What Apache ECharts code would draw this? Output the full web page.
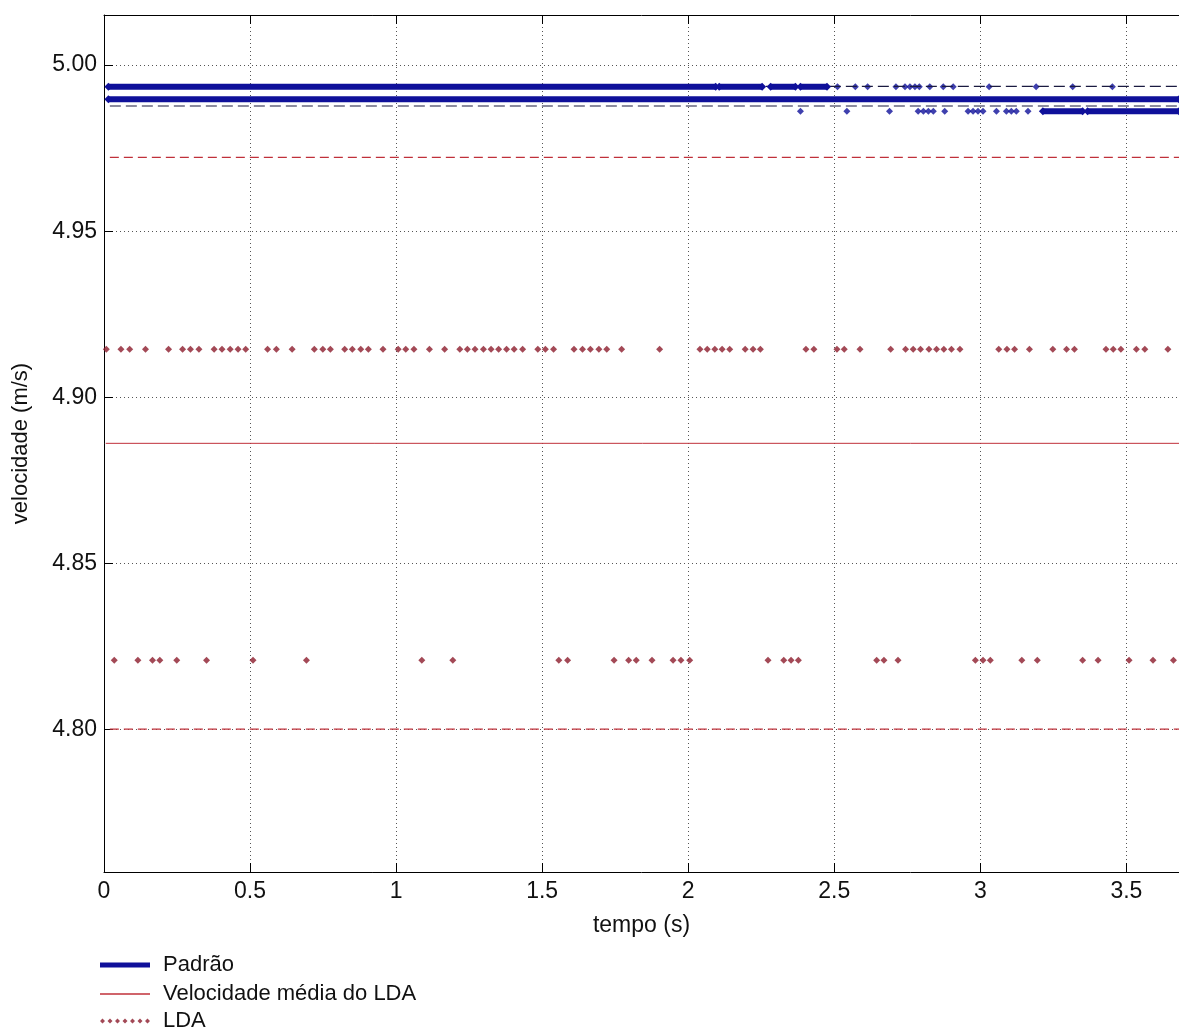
<!DOCTYPE html>
<html>
<head>
<meta charset="utf-8">
<title>velocidade x tempo</title>
<script src="https://cdn.jsdelivr.net/npm/echarts@6/dist/echarts.min.js"></script>
<style>
  html, body { margin: 0; padding: 0; background: #ffffff; }
  #chart { width: 1179px; height: 1030px; }
</style>
</head>
<body>
<div id="chart"></div>
<script>
// ---- Padrão: quantized readings of the reference instrument (m/s) ----
const nivelAlto = 4.9935;
const nivelMedio = 4.9897;
const nivelBaixo = 4.9861;
// time spans (s) where readings are so dense they merge into a band
const faixasAlto = [[0.015, 2.094], [2.106, 2.253], [2.282, 2.367], [2.384, 2.475]];
const faixasMedio = [[0.015, 3.68]];
const faixasBaixo = [[3.214, 3.350], [3.367, 3.68]];
// isolated readings (s)
const pontosAlto = [2.511, 2.572, 2.614, 2.711, 2.742, 2.759, 2.776, 2.791, 2.827, 2.873, 2.907, 3.030, 3.191, 3.316, 3.452];
const pontosBaixo = [2.384, 2.543, 2.689, 2.787, 2.805, 2.822, 2.839, 2.878, 2.958, 2.975, 2.992, 3.009, 3.055, 3.089, 3.106, 3.123, 3.163];
// Padrão spread limits
const padraoSup = 4.9936;
const padraoInf = 4.9877;

// ---- LDA ----
const ldaMedia = 4.8861;
const ldaSup = 4.9722;
const ldaInf = 4.8000;
const ldaAlto = 4.9144;
const ldaBaixo = 4.8208;
const tempoLdaAlto = [0.008, 0.058, 0.088, 0.142, 0.221, 0.269, 0.296, 0.325, 0.377, 0.404, 0.432, 0.459, 0.485,
  0.560, 0.590, 0.644, 0.720, 0.749, 0.775, 0.824, 0.850, 0.879, 0.905, 0.955, 1.007, 1.033, 1.061, 1.114,
  1.166, 1.218, 1.244, 1.270, 1.299, 1.325, 1.351, 1.378, 1.404, 1.433, 1.485, 1.511, 1.539, 1.609, 1.638,
  1.665, 1.694, 1.721, 1.772, 1.902, 2.040, 2.065, 2.091, 2.116, 2.142, 2.195, 2.222, 2.247, 2.403, 2.430,
  2.509, 2.534, 2.588, 2.693, 2.744, 2.770, 2.795, 2.824, 2.850, 2.875, 2.901, 2.930, 3.063, 3.091, 3.117,
  3.168, 3.248, 3.295, 3.322, 3.430, 3.455, 3.481, 3.534, 3.563, 3.642];
const tempoLdaBaixo = [0.035, 0.116, 0.166, 0.191, 0.249, 0.351, 0.510, 0.693, 1.088, 1.194, 1.557, 1.587,
  1.746, 1.796, 1.822, 1.876, 1.948, 1.975, 2.005, 2.273, 2.327, 2.352, 2.377, 2.645, 2.670, 2.718, 2.983,
  3.009, 3.034, 3.142, 3.195, 3.350, 3.403, 3.509, 3.591, 3.661];

// ---- axes ----
const tempoMin = 0, tempoMax = 3.68, tempoPasso = 0.5;
const velMin = 4.7570, velMax = 5.0151;
const inicioLinhas = 0.02;

const azul = '#0f109a';
const vermelho = '#c0303a';
const vinho = '#8c1c2c';
const fonte = "'Liberation Sans', Arial, sans-serif";
const tamanho = 23;

// line data with null breaks between separate spans
function faixas(spans, y) {
  const out = [];
  spans.forEach((s, i) => {
    if (i > 0) out.push([null, null]);
    out.push([s[0], y], [s[1], y]);
  });
  return out;
}
function horizontal(y, x0) { return [[x0, y], [tempoMax, y]]; }
function pontos(xs, y) { return xs.map(x => [x, y]); }

// legend icon: a short row of diamonds (60 x 6 units, same aspect as the 50 x 5 icon box)
function fileiraLosangos() {
  let p = 'path://';
  for (let i = 0; i < 7; i++) {
    const cx = 3 + i * 9;
    p += 'M' + (cx - 3) + ',3 L' + cx + ',0 L' + (cx + 3) + ',3 L' + cx + ',6 Z ';
  }
  return p;
}

function legenda(nome, topo, icone, altura, cor) {
  return {
    left: 100, top: topo, padding: 0, itemWidth: 50, itemHeight: altura,
    textStyle: { fontFamily: fonte, fontSize: tamanho - 1, color: '#111', padding: [0, 0, 0, 8] },
    data: [{ name: nome, icon: icone, itemStyle: { color: cor } }]
  };
}

const chart = echarts.init(document.getElementById('chart'), null, { renderer: 'canvas' });

const eixoX = {
  type: 'value', min: tempoMin, max: tempoMax, interval: tempoPasso,
  axisLine: { show: true, onZero: false, lineStyle: { color: '#000', width: 1 } },
  axisTick: { show: true, inside: true, length: 9, lineStyle: { color: '#000' } },
  splitLine: { show: true, lineStyle: { color: '#555', type: [1, 3], width: 1 } },
};

chart.setOption({
  animation: false,
  backgroundColor: '#ffffff',
  grid: { left: 104, top: 15, bottom: 158, right: -11, containLabel: false },
  legend: [
    legenda('Padrão', 954, 'rect', 5, azul),
    legenda('Velocidade média do LDA', 983, 'rect', 1.6, vermelho),
    legenda('LDA', 1010, fileiraLosangos(), 5, vinho)
  ],
  xAxis: [
    Object.assign({}, eixoX, {
      position: 'bottom',
      name: 'tempo (s)', nameLocation: 'middle', nameGap: 42,
      nameTextStyle: { fontFamily: fonte, fontSize: tamanho, color: '#111' },
      axisLabel: { show: true, margin: 8, fontFamily: fonte, fontSize: tamanho, color: '#111', showMaxLabel: false }
    }),
    Object.assign({}, eixoX, {
      position: 'top',
      axisLabel: { show: false },
      splitLine: { show: false }
    })
  ],
  yAxis: {
    type: 'value', min: velMin, max: velMax, splitNumber: 5,
    name: 'velocidade (m/s)', nameLocation: 'middle', nameGap: 72, nameRotate: 90,
    nameTextStyle: { fontFamily: fonte, fontSize: tamanho - 1, color: '#111' },
    axisLine: { show: true, lineStyle: { color: '#000', width: 1 } },
    axisTick: { show: true, inside: true, length: 9, lineStyle: { color: '#000' } },
    axisLabel: {
      margin: 7, fontFamily: fonte, fontSize: tamanho, color: '#111',
      showMinLabel: false, showMaxLabel: false,
      formatter: v => v.toFixed(2)
    },
    splitLine: { show: true, lineStyle: { color: '#555', type: [1, 3], width: 1 } }
  },
  series: [
    // LDA spread limits
    { name: 'LDA limite superior', type: 'line', symbol: 'none', silent: true,
      data: horizontal(ldaSup, inicioLinhas), lineStyle: { color: vermelho, width: 1.3, type: [9, 5] } },
    { name: 'LDA limite inferior', type: 'line', symbol: 'none', silent: true,
      data: horizontal(ldaInf, inicioLinhas), lineStyle: { color: vermelho, width: 1.3, type: [9, 5] } },
    // LDA mean
    { name: 'Velocidade média do LDA', type: 'line', symbol: 'none', silent: true,
      data: horizontal(ldaMedia, 0.006), lineStyle: { color: vermelho, width: 1 }, itemStyle: { color: vermelho } },
    // LDA readings
    { name: 'LDA', type: 'scatter', symbol: 'diamond', symbolSize: 7,
      data: pontos(tempoLdaAlto, ldaAlto).concat(pontos(tempoLdaBaixo, ldaBaixo)),
      itemStyle: { color: vinho } },
    // Padrão spread limits
    { name: 'Padrão limite superior', type: 'line', symbol: 'none', silent: true,
      data: horizontal(padraoSup, inicioLinhas), lineStyle: { color: '#1a1a40', width: 1.2, type: [11, 5] } },
    { name: 'Padrão limite inferior', type: 'line', symbol: 'none', silent: true,
      data: horizontal(padraoInf, inicioLinhas), lineStyle: { color: '#1a1a40', width: 1.2, type: [11, 5] } },
    // Padrão readings: dense bands
    { name: 'Padrão', type: 'line', connectNulls: false, symbol: 'diamond', symbolSize: 8, showSymbol: true,
      data: faixas(faixasMedio, nivelMedio),
      lineStyle: { color: azul, width: 6 }, itemStyle: { color: azul } },
    { name: 'Padrão faixa alta', type: 'line', connectNulls: false, symbol: 'diamond', symbolSize: 8,
      data: faixas(faixasAlto, nivelAlto),
      lineStyle: { color: azul, width: 6 }, itemStyle: { color: azul } },
    { name: 'Padrão faixa baixa', type: 'line', connectNulls: false, symbol: 'diamond', symbolSize: 8,
      data: faixas(faixasBaixo, nivelBaixo),
      lineStyle: { color: azul, width: 6 }, itemStyle: { color: azul } },
    // Padrão readings: isolated
    { name: 'Padrão leituras', type: 'scatter', symbol: 'diamond', symbolSize: 7,
      data: pontos(pontosAlto, nivelAlto).concat(pontos(pontosBaixo, nivelBaixo)),
      itemStyle: { color: azul } }
  ]
});
</script>
</body>
</html>
